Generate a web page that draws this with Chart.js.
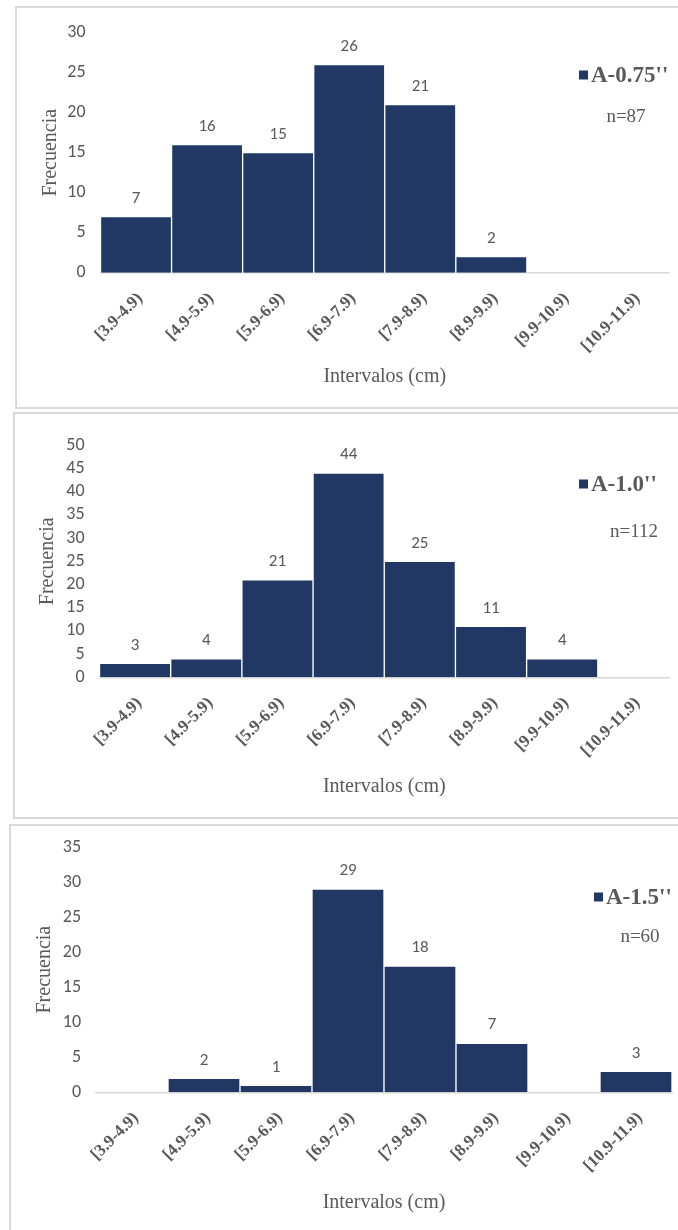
<!DOCTYPE html>
<html lang="es">
<head>
<meta charset="utf-8">
<title>Frecuencia por intervalos</title>
<script src="https://cdn.jsdelivr.net/npm/chart.js@4.4.1/dist/chart.umd.min.js"></script>
<style>
  html, body { margin: 0; padding: 0; background: #ffffff; }
  body { position: relative; width: 678px; height: 1230px; overflow: hidden; }
  .frame { position: absolute; border: 2px solid #d9d9d9; box-sizing: border-box; right: -20px; }
  .plot { position: absolute; left: 0; width: 678px; height: 410px; }
</style>
</head>
<body>
<div class="frame" style="left:15px; top:6px; height:403px;"></div>
<div class="frame" style="left:13px; top:412px; height:407px;"></div>
<div class="frame" style="left:9px; top:824px; height:430px;"></div>
<canvas id="c1" class="plot" width="678" height="410" style="top:0px"></canvas>
<canvas id="c2" class="plot" width="678" height="410" style="top:410px"></canvas>
<canvas id="c3" class="plot" width="678" height="410" style="top:820px"></canvas>
<script>
// Class intervals (cm)
const categories = ["[3.9-4.9)", "[4.9-5.9)", "[5.9-6.9)", "[6.9-7.9)", "[7.9-8.9)", "[8.9-9.9)", "[9.9-10.9)", "[10.9-11.9)"];

// Counts per interval for each sample
const countsA075 = [7, 16, 15, 26, 21, 2, 0, 0];
const countsA10  = [3, 4, 21, 44, 25, 11, 4, 0];
const countsA15  = [0, 2, 1, 29, 18, 7, 0, 3];

const seriesNames = ["A-0.75''", "A-1.0''", "A-1.5''"];
const sampleSizes = [87, 112, 60];
const yMaxValues  = [30, 50, 35];
const yStep = 5;

const BAR = '#213865';
const GREY = '#595959';
const SANS = 'Carlito, Lato, "Open Sans", sans-serif';
const SERIF = '"Liberation Serif", "Times New Roman", serif';

// Canvas-relative geometry for each panel
const frames = [
  { left: 100.5, right: 669, top: 32.7, zero: 272.7, xTitleY: 376.7, yTitleX: 51, legX: 579, legY: 75, nX: 626, nY: 117 },
  { left: 99.5,  right: 669, top: 35.3, zero: 267.3, xTitleY: 376.7, yTitleX: 48, legX: 579, legY: 74, nX: 634, nY: 122 },
  { left: 96,    right: 672, top: 27,   zero: 272.3, xTitleY: 383,   yTitleX: 45, legX: 594, legY: 77, nX: 640, nY: 117 }
];
const CANVAS_W = 678, CANVAS_H = 410;

function valueLabels() {
  return {
    id: 'valueLabels',
    afterDatasetsDraw(chart) {
      const ctx = chart.ctx;
      const meta = chart.getDatasetMeta(0);
      const data = chart.data.datasets[0].data;
      ctx.save();
      ctx.font = '17px ' + SANS;
      ctx.fillStyle = GREY;
      ctx.textAlign = 'center';
      ctx.textBaseline = 'middle';
      meta.data.forEach((bar, i) => {
        if (data[i] > 0) ctx.fillText(String(data[i]), bar.x, bar.y - 18);
      });
      ctx.restore();
    }
  };
}

function seriesKey(name, n, f) {
  return {
    id: 'seriesKey',
    afterDraw(chart) {
      const ctx = chart.ctx;
      ctx.save();
      ctx.fillStyle = BAR;
      ctx.fillRect(f.legX, f.legY - 4.5, 9, 9);
      ctx.font = 'bold 23px ' + SERIF;
      ctx.fillStyle = GREY;
      ctx.textAlign = 'left';
      ctx.textBaseline = 'middle';
      ctx.fillText(name, f.legX + 12, f.legY + 1);
      ctx.font = '19px ' + SERIF;
      ctx.textAlign = 'center';
      ctx.fillText('n=' + n, f.nX, f.nY);
      ctx.restore();
    }
  };
}

function buildChart(canvasId, counts, idx) {
  const f = frames[idx];
  return new Chart(document.getElementById(canvasId), {
    type: 'bar',
    data: {
      labels: categories,
      datasets: [{
        label: seriesNames[idx],
        data: counts,
        backgroundColor: BAR,
        borderColor: '#ffffff',
        borderWidth: 1,
        borderSkipped: 'start',
        categoryPercentage: 1,
        barPercentage: 1
      }]
    },
    options: {
      responsive: false,
      animation: false,
      events: [],
      layout: { padding: { left: 0, right: CANVAS_W - f.right, top: f.top, bottom: 0 } },
      plugins: { legend: { display: false }, tooltip: { enabled: false } },
      scales: {
        x: {
          grid: { display: false, drawTicks: false },
          border: { display: true, color: '#d9d9d9', width: 1.5 },
          ticks: {
            minRotation: 45, maxRotation: 45, autoSkip: false,
            padding: 16, labelOffset: 4,
            color: GREY, font: { family: SERIF, size: 17, weight: 'bold' }
          },
          title: {
            display: true, text: 'Intervalos (cm)', color: GREY,
            font: { family: SERIF, size: 20 },
            padding: { top: 0, bottom: CANVAS_H - f.xTitleY - 12 }
          },
          afterFit(s) { s.height = CANVAS_H - f.zero; }
        },
        y: {
          min: 0, max: yMaxValues[idx],
          grid: { display: false, drawTicks: false },
          border: { display: false },
          ticks: { stepSize: yStep, autoSkip: false, padding: 15, color: GREY, font: { family: SANS, size: 18 } },
          title: {
            display: true, text: 'Frecuencia', color: GREY,
            font: { family: SERIF, size: 20 },
            padding: { top: f.yTitleX - 12, bottom: 0 }
          },
          afterFit(s) { s.width = f.left; }
        }
      }
    },
    plugins: [valueLabels(), seriesKey(seriesNames[idx], sampleSizes[idx], f)]
  });
}

buildChart('c1', countsA075, 0);
buildChart('c2', countsA10, 1);
buildChart('c3', countsA15, 2);
</script>
</body>
</html>
